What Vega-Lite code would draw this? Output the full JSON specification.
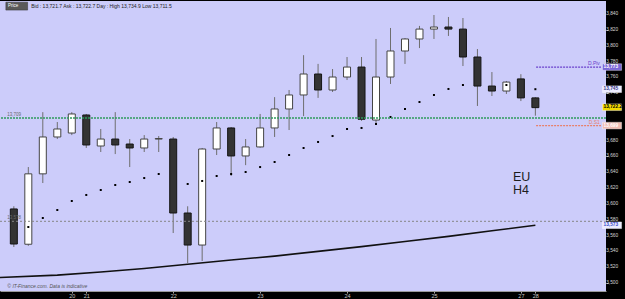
{
  "$schema": "https://vega.github.io/schema/vega-lite/v6.json",
  "width": 606,
  "height": 290,
  "autosize": {"type": "none"},
  "padding": {"left": 0, "top": 1, "right": 19, "bottom": 8},
  "background": "#000000",
  "config": {
    "view": {"stroke": null, "fill": "#ccccfa"},
    "text": {"font": "Liberation Sans"},
    "axis": {"grid": false},
    "axisY": {"labels": false, "tickColor": "#bbbbbb", "tickSize": 2, "domain": false},
    "axisX": {"labelOverlap": false, "labelFontSize": 5.5, "labelFont": "Liberation Sans", "labelColor": "#c8c8c8", "tickColor": "#aaaaaa", "tickSize": 2, "labelPadding": 0, "domainColor": "#9a9a9a"}
  },
  "datasets": {
    "candles": [
      {"i": 0, "o": 13593.6, "h": 13597, "l": 13545.5, "c": 13549.3, "sar": null},
      {"i": 1, "o": 13549, "h": 13646.6, "l": 13547, "c": 13638, "sar": 13570.8},
      {"i": 2, "o": 13638, "h": 13716, "l": 13626.4, "c": 13684.6, "sar": 13582.2},
      {"i": 3, "o": 13684.6, "h": 13703.5, "l": 13682, "c": 13694.7, "sar": 13592.3},
      {"i": 4, "o": 13689.6, "h": 13716, "l": 13687, "c": 13713.7, "sar": 13603.7},
      {"i": 5, "o": 13712.4, "h": 13713.7, "l": 13670.7, "c": 13674.5, "sar": 13611.3},
      {"i": 6, "o": 13673.2, "h": 13694.7, "l": 13665.6, "c": 13682, "sar": 13617.6},
      {"i": 7, "o": 13682, "h": 13716, "l": 13663, "c": 13674.5, "sar": 13623.9},
      {"i": 8, "o": 13675.7, "h": 13682, "l": 13646.6, "c": 13670.7, "sar": 13627.7},
      {"i": 9, "o": 13670.7, "h": 13687, "l": 13665.6, "c": 13682, "sar": 13632.7},
      {"i": 10, "o": 13682, "h": 13685.8, "l": 13665.6, "c": 13682.6, "sar": 13637.8},
      {"i": 11, "o": 13682, "h": 13684.6, "l": 13563.2, "c": 13588.5, "sar": null},
      {"i": 12, "o": 13588.5, "h": 13597, "l": 13525.3, "c": 13548, "sar": 13625.2},
      {"i": 13, "o": 13548, "h": 13670.7, "l": 13527.8, "c": 13669.4, "sar": 13629},
      {"i": 14, "o": 13669.4, "h": 13703.5, "l": 13661.8, "c": 13696, "sar": 13635.3},
      {"i": 15, "o": 13696, "h": 13697.2, "l": 13635.3, "c": 13660.6, "sar": 13637.8},
      {"i": 16, "o": 13660.6, "h": 13682, "l": 13649, "c": 13672, "sar": 13640.3},
      {"i": 17, "o": 13672, "h": 13713.7, "l": 13671, "c": 13696, "sar": 13646.6},
      {"i": 18, "o": 13696, "h": 13735, "l": 13684.6, "c": 13720, "sar": 13653},
      {"i": 19, "o": 13720, "h": 13744, "l": 13693.4, "c": 13737.7, "sar": 13661.8},
      {"i": 20, "o": 13737.7, "h": 13788, "l": 13711, "c": 13764.2, "sar": 13670.7},
      {"i": 21, "o": 13764.2, "h": 13777, "l": 13734, "c": 13744, "sar": 13678.3},
      {"i": 22, "o": 13744, "h": 13770.5, "l": 13741.5, "c": 13760.4, "sar": 13685.8},
      {"i": 23, "o": 13760.4, "h": 13785.7, "l": 13756.6, "c": 13773, "sar": 13694.7},
      {"i": 24, "o": 13773, "h": 13785.7, "l": 13705, "c": 13707, "sar": 13696},
      {"i": 25, "o": 13706, "h": 13808.5, "l": 13702, "c": 13760.4, "sar": 13701},
      {"i": 26, "o": 13760.4, "h": 13822.4, "l": 13751.6, "c": 13793.3, "sar": 13709.9},
      {"i": 27, "o": 13793.3, "h": 13809.7, "l": 13776.9, "c": 13808.5, "sar": 13720},
      {"i": 28, "o": 13808.5, "h": 13825, "l": 13797, "c": 13821, "sar": 13728.8},
      {"i": 29, "o": 13821, "h": 13838.8, "l": 13808.5, "c": 13823.6, "sar": 13737.7},
      {"i": 30, "o": 13823.6, "h": 13836.3, "l": 13812.3, "c": 13821, "sar": 13745.3},
      {"i": 31, "o": 13821, "h": 13835, "l": 13774.3, "c": 13785.7, "sar": 13750.3},
      {"i": 32, "o": 13785.7, "h": 13795.8, "l": 13723.8, "c": 13749, "sar": null},
      {"i": 33, "o": 13749, "h": 13766.7, "l": 13736.4, "c": 13742.7, "sar": null},
      {"i": 34, "o": 13742.7, "h": 13755.4, "l": 13739, "c": 13754, "sar": 13750.3},
      {"i": 35, "o": 13758, "h": 13764, "l": 13730, "c": 13734, "sar": null},
      {"i": 36, "o": 13734, "h": 13734.9, "l": 13711.5, "c": 13721.7, "sar": 13745}
    ],
    "ma": [
      {"i": -1, "ma": 13507},
      {"i": 3, "ma": 13510},
      {"i": 6, "ma": 13514},
      {"i": 9, "ma": 13518.3},
      {"i": 12, "ma": 13523.8},
      {"i": 15, "ma": 13529},
      {"i": 18, "ma": 13534},
      {"i": 21, "ma": 13540},
      {"i": 24, "ma": 13546},
      {"i": 27, "ma": 13552.5},
      {"i": 30, "ma": 13559},
      {"i": 33, "ma": 13566},
      {"i": 36, "ma": 13573}
    ],
    "ticks": [
      {"v": 13500}, {"v": 13520}, {"v": 13540}, {"v": 13560}, {"v": 13580}, {"v": 13600},
      {"v": 13620}, {"v": 13640}, {"v": 13660}, {"v": 13680},
      {"v": 13740}, {"v": 13760}, {"v": 13780}, {"v": 13800}, {"v": 13820}, {"v": 13840}
    ],
    "boxes": [
      {"label": "13,773", "v": 13773, "kind": "pivot"},
      {"label": "13,745", "v": 13745, "kind": "sar"},
      {"label": "13,722.2", "v": 13722.2, "kind": "price"},
      {"label": "13,699", "v": 13699, "kind": "s1"},
      {"label": "13,573", "v": 13573, "kind": "ma"}
    ],
    "tag": [
      {"t": "EU", "v": 13633.5},
      {"t": "H4", "v": 13617.6}
    ]
  },
  "layer": [
    {
      "data": {"name": "ma"},
      "mark": {"type": "line", "stroke": "#111111", "strokeWidth": 1.6, "clip": true},
      "encoding": {
        "x": {
          "field": "i", "type": "quantitative", "title": null,
          "scale": {"domain": [-0.61, 40.53], "nice": false, "zero": false},
          "axis": {
            "title": null,
            "values": [4, 5, 11, 17, 23, 29, 35, 36],
            "labelExpr": "datum.value==4?'20':datum.value==5?'21':datum.value==11?'22':datum.value==17?'23':datum.value==23?'24':datum.value==29?'25':datum.value==35?'27':datum.value==36?'28':''",
            "labelOverlap": false
          }
        },
        "y": {
          "field": "ma", "type": "quantitative", "title": null,
          "scale": {"domain": [13489.9, 13856.5], "nice": false, "zero": false},
          "axis": {
            "title": null,
            "orient": "right",
            "values": [13500, 13520, 13540, 13560, 13580, 13600, 13620, 13640, 13660, 13680, 13700, 13720, 13740, 13760, 13780, 13800, 13820, 13840],
            "labels": false
          }
        }
      }
    },
    {
      "data": {"name": "candles"},
      "mark": {"type": "rule", "stroke": "#6e6e6e", "strokeWidth": 1},
      "encoding": {
        "x": {"field": "i", "type": "quantitative", "title": null},
        "y": {"field": "l", "type": "quantitative", "title": null},
        "y2": {"field": "h"}
      }
    },
    {
      "data": {"name": "candles"},
      "mark": {"type": "bar", "size": 7, "strokeWidth": 1},
      "encoding": {
        "x": {"field": "i", "type": "quantitative", "title": null},
        "y": {"field": "o", "type": "quantitative", "title": null},
        "y2": {"field": "c"},
        "fill": {"condition": {"test": "datum.c >= datum.o", "value": "#ffffff"}, "value": "#333333"},
        "stroke": {"condition": {"test": "datum.c >= datum.o", "value": "#444444"}, "value": "#151515"}
      }
    },
    {
      "data": {"name": "candles"},
      "mark": {"type": "point", "shape": "square", "filled": true, "size": 4, "color": "#000000", "opacity": 1},
      "encoding": {
        "x": {"field": "i", "type": "quantitative", "title": null},
        "y": {"field": "sar", "type": "quantitative", "title": null}
      }
    },
    {
      "data": {"values": [{"level": 13708.6}]},
      "mark": {"type": "rule", "stroke": "#2f9a5e", "strokeWidth": 1.6, "strokeDash": [2, 1]},
      "encoding": {"y": {"field": "level", "type": "quantitative", "title": null}}
    },
    {
      "data": {"values": [{"level": 13578}]},
      "mark": {"type": "rule", "stroke": "#858585", "strokeWidth": 1, "strokeDash": [2, 2]},
      "encoding": {"y": {"field": "level", "type": "quantitative", "title": null}}
    },
    {
      "data": {"values": [{"level": 13773}]},
      "mark": {"type": "rule", "stroke": "#6a40cc", "strokeWidth": 1.2, "strokeDash": [2, 1]},
      "encoding": {
        "x": {"datum": 36.05, "type": "quantitative", "title": null},
        "x2": {"datum": 40.53},
        "y": {"field": "level", "type": "quantitative", "title": null}
      }
    },
    {
      "data": {"values": [{"level": 13699}]},
      "mark": {"type": "rule", "stroke": "#e8806a", "strokeWidth": 1.2, "strokeDash": [2, 1]},
      "encoding": {
        "x": {"datum": 36.05, "type": "quantitative", "title": null},
        "x2": {"datum": 40.53},
        "y": {"field": "level", "type": "quantitative", "title": null}
      }
    },
    {
      "data": {"values": [{"t": "13,709", "level": 13708.6}, {"t": "13,578", "level": 13578}]},
      "mark": {"type": "text", "align": "left", "baseline": "bottom", "dy": -1, "fontSize": 4.5, "color": "#6a6a6a"},
      "encoding": {
        "x": {"datum": -0.45, "type": "quantitative", "title": null},
        "y": {"field": "level", "type": "quantitative", "title": null},
        "text": {"field": "t"}
      }
    },
    {
      "data": {"values": [{"t": "D.Piv", "level": 13773}]},
      "mark": {"type": "text", "align": "right", "baseline": "bottom", "dy": -1, "fontSize": 5, "color": "#6a40cc"},
      "encoding": {
        "x": {"datum": 40.45, "type": "quantitative", "title": null},
        "y": {"field": "level", "type": "quantitative", "title": null},
        "text": {"field": "t"}
      }
    },
    {
      "data": {"values": [{"t": "D.S1", "level": 13699}]},
      "mark": {"type": "text", "align": "right", "baseline": "bottom", "dy": -1, "fontSize": 5, "color": "#e8806a"},
      "encoding": {
        "x": {"datum": 40.45, "type": "quantitative", "title": null},
        "y": {"field": "level", "type": "quantitative", "title": null},
        "text": {"field": "t"}
      }
    },
    {
      "data": {"name": "tag"},
      "mark": {"type": "text", "align": "left", "baseline": "middle", "fontSize": 12.5, "color": "#1c1c1c", "font": "Liberation Sans"},
      "encoding": {
        "x": {"datum": 34.45, "type": "quantitative", "title": null},
        "y": {"field": "v", "type": "quantitative", "title": null},
        "text": {"field": "t"}
      }
    },
    {
      "data": {"values": [{"t": "Price"}]},
      "mark": {"type": "rect", "fill": "#5a5a5a", "stroke": "#333333", "strokeWidth": 0.5},
      "encoding": {
        "x": {"datum": -0.55, "type": "quantitative", "title": null},
        "x2": {"datum": 0.95},
        "y": {"datum": 13855, "type": "quantitative", "title": null},
        "y2": {"datum": 13845}
      }
    },
    {
      "data": {"values": [{"t": "Price"}]},
      "mark": {"type": "text", "align": "left", "baseline": "middle", "fontSize": 4.5, "color": "#ffffff"},
      "encoding": {
        "x": {"datum": -0.4, "type": "quantitative", "title": null},
        "y": {"datum": 13850, "type": "quantitative", "title": null},
        "text": {"field": "t"}
      }
    },
    {
      "data": {"values": [{"t": "Bid : 13,721.7  Ask : 13,722.7  Day : High 13,734.9  Low 13,711.5"}]},
      "mark": {"type": "text", "align": "left", "baseline": "middle", "fontSize": 5, "color": "#222222"},
      "encoding": {
        "x": {"datum": 1.2, "type": "quantitative", "title": null},
        "y": {"datum": 13850, "type": "quantitative", "title": null},
        "text": {"field": "t"}
      }
    },
    {
      "data": {"values": [{"t": "© IT-Finance.com. Data is indicative"}]},
      "mark": {"type": "text", "align": "left", "baseline": "alphabetic", "fontSize": 5, "fontStyle": "italic", "color": "#555555"},
      "encoding": {
        "x": {"datum": -0.45, "type": "quantitative", "title": null},
        "y": {"datum": 13493.5, "type": "quantitative", "title": null},
        "text": {"field": "t"}
      }
    },
    {
      "data": {"name": "ticks"},
      "mark": {"type": "text", "align": "left", "baseline": "middle", "fontSize": 4.8, "color": "#d4d4d4"},
      "encoding": {
        "x": {"datum": 40.7, "type": "quantitative", "title": null},
        "y": {"field": "v", "type": "quantitative", "title": null},
        "text": {"field": "v", "type": "quantitative", "format": ",d"},
        "fontWeight": {"condition": {"test": "datum.v % 100 === 0", "value": "bold"}, "value": "normal"}
      }
    },
    {
      "data": {"name": "boxes"},
      "mark": {"type": "rect", "yOffset": -3.3, "y2Offset": 3.3, "stroke": "#ffffff", "strokeWidth": 0.4},
      "encoding": {
        "x": {"datum": 40.63, "type": "quantitative", "title": null},
        "x2": {"datum": 41.95},
        "y": {"field": "v", "type": "quantitative", "title": null},
        "y2": {"field": "v"},
        "fill": {
          "field": "kind", "type": "nominal", "legend": null,
          "scale": {"domain": ["pivot", "sar", "price", "s1", "ma"], "range": ["#7a66d6", "#ececff", "#f2d900", "#f0bdb4", "#ececff"]}
        }
      }
    },
    {
      "data": {"name": "boxes"},
      "mark": {"type": "text", "align": "left", "baseline": "middle", "fontSize": 4.8, "fontWeight": "bold"},
      "encoding": {
        "x": {"datum": 40.7, "type": "quantitative", "title": null},
        "y": {"field": "v", "type": "quantitative", "title": null},
        "text": {"field": "label"},
        "color": {
          "field": "kind", "type": "nominal", "legend": null,
          "scale": {"domain": ["pivot", "sar", "price", "s1", "ma"], "range": ["#ffffff", "#3a3a8a", "#000000", "#ffffff", "#3a4ac8"]}
        }
      }
    }
  ]
}
